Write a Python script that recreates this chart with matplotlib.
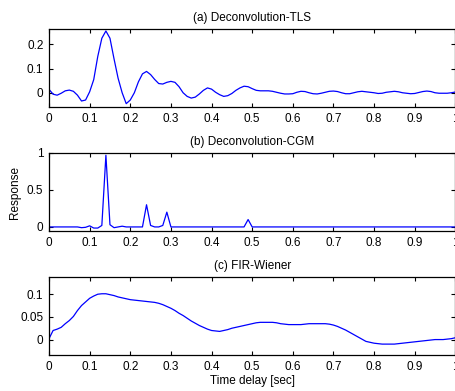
"""
Respuesta al impulso: Deconvolution-TLS, Deconvolution-CGM, FIR-Wiener
"""

import numpy as np
import matplotlib.pyplot as plt
from matplotlib.ticker import FormatStrFormatter

plt.rcParams['font.family'] = ['Liberation Sans', 'DejaVu Sans']
plt.rcParams['font.size'] = 8.5

# Eje de tiempo (muestreo 0.01 s)
t = np.linspace(0, 1, 101)

# (a) Deconvolution-TLS
resp_tls = [0.014, -0.006, -0.010, -0.002, 0.008, 0.011, 0.006, -0.010, -0.034, -0.030,
            0.004, 0.054, 0.150, 0.225, 0.255, 0.225, 0.140, 0.060, 0.000, -0.045,
            -0.030, 0.000, 0.045, 0.078, 0.088, 0.075, 0.055, 0.038, 0.036, 0.043,
            0.047, 0.043, 0.025, 0.000, -0.015, -0.022, -0.018, -0.005, 0.010, 0.020,
            0.015, 0.002, -0.008, -0.015, -0.012, -0.003, 0.010, 0.020, 0.027, 0.025,
            0.017, 0.010, 0.008, 0.008, 0.008, 0.006, 0.002, -0.002, -0.005, -0.005,
            -0.004, 0.002, 0.006, 0.005, 0.000, -0.004, -0.005, -0.002, 0.002, 0.006,
            0.007, 0.005, 0.000, -0.004, -0.004, 0.000, 0.004, 0.006, 0.004, 0.002,
            0.000, -0.003, -0.002, 0.002, 0.004, 0.006, 0.004, 0.000, -0.002, -0.004,
            -0.003, 0.001, 0.005, 0.007, 0.005, 0.000, -0.002, -0.002, -0.002, 0.000,
            0.003]

# (b) Deconvolution-CGM
resp_cgm = [0, 0, 0, 0, 0, 0, 0, 0, -0.010, -0.005,
            0.015, -0.015, -0.015, 0.020, 0.970, 0.030, -0.010, 0.000, 0.010, 0.000,
            0, 0, 0, 0, 0.300, 0.020, 0, 0, 0.020, 0.200,
            0, 0, 0, 0, 0, 0, 0, 0, 0, 0,
            0, 0, 0, 0, 0, 0, 0, 0, 0, 0.100,
            0, 0, 0, 0, 0, 0, 0, 0, 0, 0,
            0, 0, 0, 0, 0, 0, 0, 0, 0, 0,
            0, 0, 0, 0, 0, 0, 0, 0, 0, 0,
            0, 0, 0, 0, 0, 0, 0, 0, 0, 0,
            0, 0, 0, 0, 0, 0, 0, 0, 0, 0,
            0]

# (c) FIR-Wiener
resp_fir = [0.002, 0.020, 0.023, 0.027, 0.035, 0.042, 0.051, 0.064, 0.075, 0.083,
            0.091, 0.096, 0.100, 0.101, 0.101, 0.099, 0.097, 0.094, 0.092, 0.090,
            0.088, 0.087, 0.086, 0.085, 0.084, 0.083, 0.082, 0.080, 0.077, 0.073,
            0.069, 0.064, 0.058, 0.053, 0.047, 0.041, 0.036, 0.031, 0.027, 0.023,
            0.020, 0.019, 0.018, 0.020, 0.022, 0.025, 0.027, 0.029, 0.031, 0.033,
            0.035, 0.037, 0.038, 0.038, 0.038, 0.038, 0.037, 0.035, 0.034, 0.033,
            0.033, 0.033, 0.033, 0.034, 0.035, 0.035, 0.035, 0.035, 0.035, 0.034,
            0.032, 0.029, 0.025, 0.021, 0.016, 0.011, 0.006, 0.001, -0.004, -0.006,
            -0.008, -0.009, -0.010, -0.010, -0.010, -0.010, -0.009, -0.008, -0.007, -0.006,
            -0.005, -0.004, -0.003, -0.002, -0.001, 0.000, 0.000, 0.000, 0.001, 0.002,
            0.004]

titulos = ['(a) Deconvolution-TLS', '(b) Deconvolution-CGM', '(c) FIR-Wiener']
series = [resp_tls, resp_cgm, resp_fir]
ylims = [(-0.06, 0.262), (-0.055, 1.0), (-0.034, 0.138)]
yticks = [[0, 0.1, 0.2], [0, 0.5, 1], [0, 0.05, 0.1]]
xticks = [0, 0.1, 0.2, 0.3, 0.4, 0.5, 0.6, 0.7, 0.8, 0.9, 1]

fig = plt.figure(figsize=(4.56, 3.91), dpi=100)
bottoms = [0.7256, 0.4092, 0.0921]

for i in range(3):
    ax = fig.add_axes([0.1075, bottoms[i], 0.891, 0.1995])
    ax.plot(t, series[i], color='blue', linewidth=0.9)
    ax.set_xlim(0, 1)
    ax.set_ylim(*ylims[i])
    ax.set_xticks(xticks)
    ax.set_yticks(yticks[i])
    ax.xaxis.set_major_formatter(FormatStrFormatter('%g'))
    ax.yaxis.set_major_formatter(FormatStrFormatter('%g'))
    ax.tick_params(direction='in', top=True, right=True, length=3, width=0.8, labelsize=8.5, pad=4)
    for s in ax.spines.values():
        s.set_linewidth(0.9)
    ax.set_title(titulos[i], fontsize=8.5, pad=6)
    if i == 1:
        ax.set_ylabel('Response', fontsize=8.5, labelpad=4)
    if i == 2:
        ax.set_xlabel('Time delay [sec]', fontsize=8.5, labelpad=2)

fig.savefig('out.png', dpi=100, facecolor='white')
plt.close()
